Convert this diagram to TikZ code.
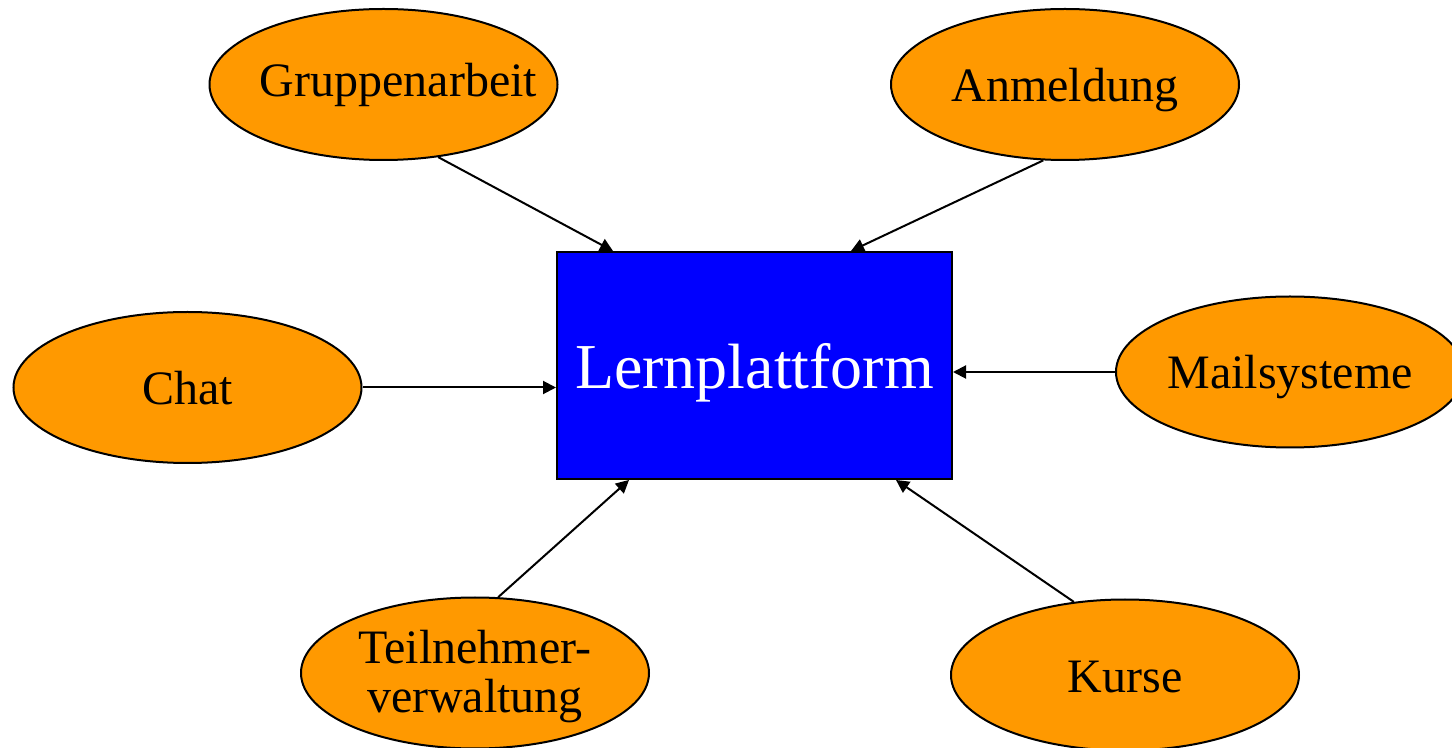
\documentclass[tikz,border=0pt]{standalone}
\usepackage{fontspec}
\setmainfont{Liberation Serif}
\usetikzlibrary{shapes.geometric,arrows.meta,calc}
\definecolor{orangefill}{HTML}{FF9900}
\definecolor{bluefill}{HTML}{0000FF}
\tikzset{
  topic/.style={ellipse, draw=black, line width=1pt, fill=orangefill, inner sep=0pt,
    minimum width=174pt, minimum height=75.5pt,
    font=\fontsize{24pt}{24.5pt}\selectfont, text height=17pt, text depth=0pt},
  centerbox/.style={rectangle, draw=black, line width=1pt, fill=bluefill, inner sep=0pt,
    minimum width=197.5pt, minimum height=113.5pt, text=white,
    font=\fontsize{32pt}{34pt}\selectfont, text height=23.5pt, text depth=0pt},
  conn/.style={draw=black, line width=1pt, -{Triangle[length=6.5pt,width=6.5pt]}}
}
\begin{document}
\begin{tikzpicture}[x=0.5pt,y=-0.5pt]
\useasboundingbox (0,0) rectangle (1452,748);
\clip (0,0) rectangle (1452,748);
\node[centerbox] (box) at (754.5,365.5) {Lernplattform};
\node[topic] (grp) at (383.5,84.5) {\makebox[0pt]{\hspace*{15pt}\raisebox{2.5pt}{Gruppenarbeit}}};
\node[topic] (anm) at (1065,84.5) {Anmeldung};
\node[topic] (chat) at (187.5,387.5) {Chat};
\node[topic] (mail) at (1290,372) {Mailsysteme};
\node[topic, align=center, text height=39pt, text depth=0pt] (teil) at (475,673) {Teilnehmer-\\verwaltung};
\node[topic] (kurse) at (1125,675) {Kurse};
\draw[conn] (grp.-53.5) -- ($(box.north west)+(57,0)$);
\draw[conn] (anm.-106) -- ($(box.north east)+(-102,0)$);
\draw[conn] (chat.east) -- (box.west |- chat.east);
\draw[conn] (mail.west) -- (box.east |- mail.west);
\draw[conn] (teil.73) -- ($(box.south west)+(73,0)$);
\draw[conn] (kurse.125) -- ($(box.south east)+(-57,0)$);
\end{tikzpicture}
\end{document}
